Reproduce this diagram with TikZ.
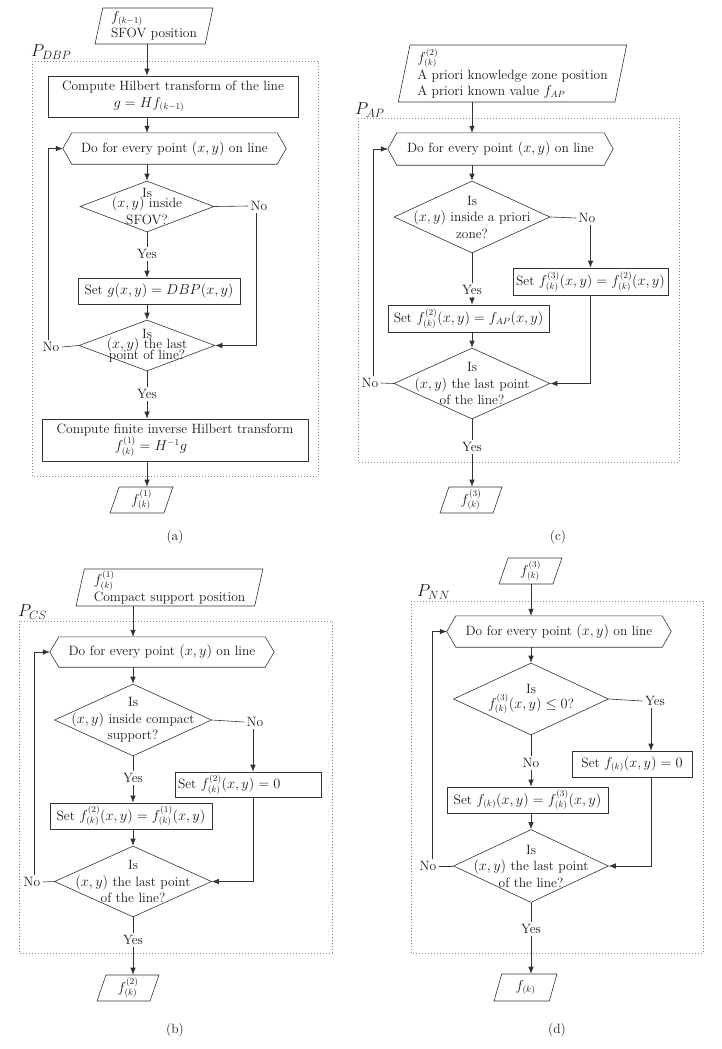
\documentclass[tikz,border=0pt]{standalone}
\usetikzlibrary{shapes.geometric,arrows.meta,calc}
\newcommand{\hexdraw}[1]{%
  \draw[ln] (#1.west) -- ([xshift=9pt]#1.north west) -- ([xshift=-9pt]#1.north east) -- (#1.east) -- ([xshift=-9pt]#1.south east) -- ([xshift=9pt]#1.south west) -- cycle;}
\begin{document}
\begin{tikzpicture}[x=1pt,y=-1pt,
  every node/.style={font=\fontsize{13.5}{16.5}\selectfont, text=black!90},
  ln/.style={draw=black!80, line width=0.6pt},
  arr/.style={ln, -{Latex[length=7pt,width=5.5pt]}},
  box/.style={draw=black!80, line width=0.6pt, rectangle, inner sep=0pt, align=center},
  dia/.style={draw=black!80, line width=0.6pt, diamond, inner sep=0pt},
  io/.style={draw=black!80, line width=0.6pt, trapezium, trapezium left angle=78, trapezium right angle=102, trapezium stretches=true, inner sep=1pt, align=left},
  hexn/.style={inner sep=0pt, align=center},
  lab/.style={inner sep=2.5pt},
  dtext/.style={inner sep=0pt, align=center},
  plab/.style={font=\fontsize{17}{20}\selectfont, anchor=west, inner sep=0pt},
  frame/.style={draw=black!45, line width=0.6pt, dash pattern=on 0.7pt off 2.3pt}]
\useasboundingbox (0,0) rectangle (722,1049);

% ================= (a) =================
\coordinate (cA) at (147,0);
\node[io, minimum width=118pt, minimum height=36pt] (in_a) at (154,26) {$f_{(k-1)}$\\SFOV position};
\node[plab] (P_a) at (31,52) {$P_{DBP}$};
\draw[frame] (32,61) rectangle (318,476);
\node[box, minimum width=250pt, minimum height=41pt] (comp_a) at (173,96.5) {Compute Hilbert transform of the line\\$g = Hf_{(k-1)}$\rule{48pt}{0pt}};
\node[hexn, minimum width=223pt, minimum height=31pt] (hex_a) at (174.5,148.5) {Do for every point $(x,y)$ on line};
\hexdraw{hex_a}
\node[dia, minimum width=134pt, minimum height=51pt] (d1_a) at (147,206.5) {};
\node[dtext] (t1_a) at (d1_a) {Is\\[-6pt]$(x,y)$ inside\\SFOV?};
\node[lab] (noA1) at (259,206) {No};
\node[lab] (yesA1) at (147,254) {Yes};
\node[box, minimum width=162pt, minimum height=26pt] (set_a) at (159,291) {Set $g(x,y) = DBP(x,y)$};
\node[dia, minimum width=136pt, minimum height=51pt] (d2_a) at (147,345.5) {};
\node[dtext] (t2_a) at (d2_a) {Is\\[-6pt]$(x,y)$ the last\\[-6pt]point of line?};
\node[lab] (noA2) at (51,347) {No};
\node[lab] (yesA2) at (147,394) {Yes};
\node[box, minimum width=266pt, minimum height=42pt] (fin_a) at (175,440) {Compute finite inverse Hilbert transform\\$f^{(1)}_{(k)} = H^{-1}g$\rule{48pt}{0pt}};
\node[io, minimum width=63pt, minimum height=26pt] (out_a) at (141.5,500) {$f^{(1)}_{(k)}$};
\node (cap_a) at (175,537) {(a)};

\draw[arr] (in_a.south -| cA) -- (comp_a.north -| cA);
\draw[arr] (comp_a.south -| cA) -- (hex_a.north -| cA);
\draw[arr] (hex_a.south -| cA) -- (d1_a.north);
\draw[ln] (d1_a.east) -- (noA1.west);
\draw[arr] ([xshift=-3pt]noA1.south) |- (d2_a.east);
\draw[ln] (d1_a.south) -- (yesA1.north);
\draw[arr] (yesA1.south) -- (set_a.north -| cA);
\draw[arr] (set_a.south -| cA) -- (d2_a.north);
\draw[ln] (d2_a.west) -- (noA2.east);
\draw[arr] ([xshift=-3pt]noA2.north) |- (hex_a.west);
\draw[ln] (d2_a.south) -- (yesA2.north);
\draw[arr] (yesA2.south) -- (fin_a.north -| cA);
\draw[arr] (fin_a.south -| cA) -- (out_a.north -| cA);

% ================= (c) =================
\coordinate (cC) at (472,0);
\node[io, minimum width=229pt, minimum height=57pt] (in_c) at (512.5,73.5) {$f^{(2)}_{(k)}$\\A priori knowledge zone position\\A priori known value $f_{AP}$};
\node[plab] (P_c) at (355,110) {$P_{AP}$};
\draw[frame] (358,118) rectangle (679,462);
\node[hexn, minimum width=225pt, minimum height=32pt] (hex_c) at (500.5,149) {Do for every point $(x,y)$ on line};
\hexdraw{hex_c}
\node[dia, minimum width=156pt, minimum height=72pt] (d1_c) at (472,217) {};
\node[dtext] (t1_c) at (d1_c) {Is\\$(x,y)$ inside a priori\\zone?};
\node[lab] (noC1) at (587,218) {No};
\node[lab] (yesC1) at (472,290) {Yes};
\node[box, minimum width=155pt, minimum height=27pt] (setR_c) at (590.5,281.5) {Set $f^{(3)}_{(k)}(x,y) = f^{(2)}_{(k)}(x,y)$};
\node[box, minimum width=161pt, minimum height=27pt] (setL_c) at (468.5,318.5) {Set $f^{(2)}_{(k)}(x,y) = f_{AP}(x,y)$};
\node[dia, minimum width=156pt, minimum height=71pt] (d2_c) at (472,383.5) {};
\node[dtext] (t2_c) at (d2_c) {Is\\$(x,y)$ the last point\\of the line?};
\node[lab] (noC2) at (370,383) {No};
\node[lab] (yesC2) at (472,447) {Yes};
\node[io, minimum width=62pt, minimum height=26pt] (out_c) at (471,500) {$f^{(3)}_{(k)}$};
\node (cap_c) at (558,537) {(c)};

\draw[arr] (in_c.south -| cC) -- (hex_c.north -| cC);
\draw[arr] (hex_c.south -| cC) -- (d1_c.north);
\draw[ln] (d1_c.east) -- (noC1.west);
\draw[arr] (noC1.south -| setR_c) -- (setR_c.north);
\draw[arr] (setR_c.south) |- (d2_c.east);
\draw[ln] (d1_c.south) -- (yesC1.north);
\draw[arr] (yesC1.south) -- (setL_c.north -| cC);
\draw[arr] (setL_c.south -| cC) -- (d2_c.north);
\draw[ln] (d2_c.west) -- (noC2.east);
\draw[arr] ([xshift=3pt]noC2.north) |- (hex_c.west);
\draw[ln] (d2_c.south) -- (yesC2.north);
\draw[arr] (yesC2.south) -- (out_c.north -| cC);

% ================= (b) =================
\coordinate (cB) at (133,0);
\node[io, minimum width=187pt, minimum height=37pt] (in_b) at (169.5,587.5) {$f^{(1)}_{(k)}$\\Compact support position};
\node[plab] (P_b) at (18,612) {$P_{CS}$};
\draw[frame] (19,621) rectangle (332,953);
\node[hexn, minimum width=224pt, minimum height=30pt] (hex_b) at (162,652) {Do for every point $(x,y)$ on line};
\hexdraw{hex_b}
\node[dia, minimum width=157pt, minimum height=72pt] (d1_b) at (133,720) {};
\node[dtext] (t1_b) at (d1_b) {Is\\$(x,y)$ inside compact\\support?};
\node[lab] (noB1) at (255,722) {No};
\node[lab] (yesB1) at (133,778) {Yes};
\node[box, minimum width=146pt, minimum height=25pt, text width=140pt, inner xsep=3pt, align=left] (setR_b) at (248,784.5) {Set $f^{(2)}_{(k)}(x,y) = 0$};
\node[box, minimum width=162pt, minimum height=26pt] (setL_b) at (131,816) {Set $f^{(2)}_{(k)}(x,y) = f^{(1)}_{(k)}(x,y)$};
\node[dia, minimum width=157pt, minimum height=71pt] (d2_b) at (133,881.5) {};
\node[dtext] (t2_b) at (d2_b) {Is\\$(x,y)$ the last point\\of the line?};
\node[lab] (noB2) at (32,882) {No};
\node[lab] (yesB2) at (133,940) {Yes};
\node[io, minimum width=62pt, minimum height=26pt] (out_b) at (128,988) {$f^{(2)}_{(k)}$};
\node (cap_b) at (175,1030) {(b)};

\draw[arr] (in_b.south -| cB) -- (hex_b.north -| cB);
\draw[arr] (hex_b.south -| cB) -- (d1_b.north);
\draw[ln] (d1_b.east) -- (noB1.west);
\draw[arr] ([xshift=-2pt]noB1.south) -- ([xshift=-2pt]noB1.south |- setR_b.north);
\draw[arr] ([xshift=-2pt]noB1.south |- setR_b.south) |- (d2_b.east);
\draw[ln] (d1_b.south) -- (yesB1.north);
\draw[arr] (yesB1.south) -- (setL_b.north -| cB);
\draw[arr] (setL_b.south -| cB) -- (d2_b.north);
\draw[ln] (d2_b.west) -- (noB2.east);
\draw[arr] ([xshift=2pt]noB2.north) |- (hex_b.west);
\draw[ln] (d2_b.south) -- (yesB2.north);
\draw[arr] (yesB2.south) -- (out_b.north -| cB);

% ================= (d) =================
\coordinate (cD) at (531,0);
\node[io, minimum width=63pt, minimum height=26pt] (in_d) at (530.5,571) {$f^{(3)}_{(k)}$};
\node[plab] (P_d) at (417,592) {$P_{NN}$};
\draw[frame] (411,601) rectangle (703,953);
\node[hexn, minimum width=224pt, minimum height=31pt] (hex_d) at (559,631.5) {Do for every point $(x,y)$ on line};
\hexdraw{hex_d}
\node[dia, minimum width=155pt, minimum height=72pt] (d1_d) at (531,699) {};
\node[dtext] (t1_d) at (d1_d) {Is\\[-2pt]$f^{(3)}_{(k)}(x,y) \le 0$?};
\node[lab] (yesD1) at (655,701) {Yes};
\node[lab] (noD1) at (531,763) {No};
\node[box, minimum width=120pt, minimum height=26pt] (setR_d) at (632,764) {Set $f_{(k)}(x,y) = 0$};
\node[box, minimum width=161pt, minimum height=26pt] (setL_d) at (527.5,800) {Set $f_{(k)}(x,y) = f^{(3)}_{(k)}(x,y)$};
\node[dia, minimum width=155pt, minimum height=73pt] (d2_d) at (531,866) {};
\node[dtext] (t2_d) at (d2_d) {Is\\$(x,y)$ the last point\\of the line?};
\node[lab] (noD2) at (428,866) {No};
\node[lab] (yesD2) at (531,929) {Yes};
\node[io, minimum width=63pt, minimum height=27pt] (out_d) at (525.5,987.5) {$f_{(k)}$};
\node (cap_d) at (557,1030) {(d)};

\draw[arr] (in_d.south -| cD) -- (hex_d.north -| cD);
\draw[arr] (hex_d.south -| cD) -- (d1_d.north);
\draw[ln] (d1_d.east) -- (yesD1.west);
\draw[arr] ([xshift=-4pt]yesD1.south) -- ([xshift=-4pt]yesD1.south |- setR_d.north);
\draw[arr] ([xshift=-4pt]yesD1.south |- setR_d.south) |- (d2_d.east);
\draw[ln] (d1_d.south) -- (noD1.north);
\draw[arr] (noD1.south) -- (setL_d.north -| cD);
\draw[arr] (setL_d.south -| cD) -- (d2_d.north);
\draw[ln] (d2_d.west) -- (noD2.east);
\draw[arr] ([xshift=4pt]noD2.north) |- (hex_d.west);
\draw[ln] (d2_d.south) -- (yesD2.north);
\draw[arr] (yesD2.south) -- (out_d.north -| cD);
\end{tikzpicture}
\end{document}
